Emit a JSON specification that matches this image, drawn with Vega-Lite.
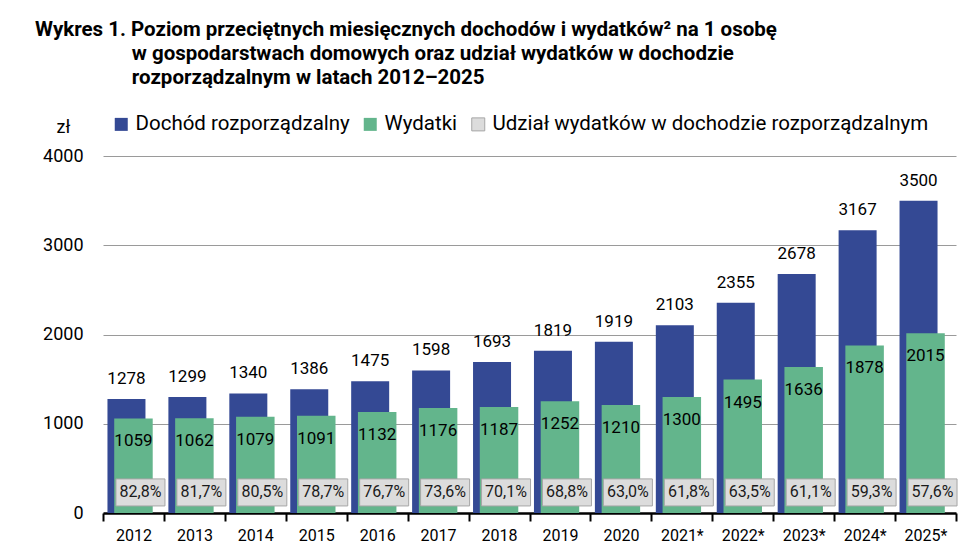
{
  "$schema": "https://vega.github.io/schema/vega-lite/v6.json",
  "width": 853,
  "height": 357,
  "autosize": {"type": "none"},
  "padding": {"left": 103, "top": 156, "right": 19, "bottom": 45},
  "background": "white",
  "title": {
    "text": [
      "Wykres 1. Poziom przeciętnych miesięcznych dochodów i wydatków² na 1 osobę",
      "\u200b\u00a0\u00a0\u00a0\u00a0\u00a0\u00a0\u00a0\u00a0\u00a0\u00a0\u00a0\u00a0\u00a0\u00a0\u00a0\u00a0\u00a0\u00a0\u00a0w gospodarstwach domowych oraz udział wydatków w dochodzie",
      "\u200b\u00a0\u00a0\u00a0\u00a0\u00a0\u00a0\u00a0\u00a0\u00a0\u00a0\u00a0\u00a0\u00a0\u00a0\u00a0\u00a0\u00a0\u00a0\u00a0rozporządzalnym w latach 2012–2025"
    ],
    "anchor": "start",
    "frame": "group",
    "dx": -68,
    "dy": -22,
    "fontSize": 20.5,
    "fontWeight": "bold",
    "lineHeight": 24,
    "color": "black",
    "font": "Roboto"
  },
  "config": {
    "font": "Roboto",
    "view": {"stroke": null},
    "locale": {
      "number": {"decimal": ",", "thousands": "", "grouping": [3], "currency": ["", " zł"]}
    }
  },
  "data": {
    "values": [
      {"rok": "2012", "dochod": 1278, "wydatki": 1059, "udzial": 0.828},
      {"rok": "2013", "dochod": 1299, "wydatki": 1062, "udzial": 0.817},
      {"rok": "2014", "dochod": 1340, "wydatki": 1079, "udzial": 0.805},
      {"rok": "2015", "dochod": 1386, "wydatki": 1091, "udzial": 0.787},
      {"rok": "2016", "dochod": 1475, "wydatki": 1132, "udzial": 0.767},
      {"rok": "2017", "dochod": 1598, "wydatki": 1176, "udzial": 0.736},
      {"rok": "2018", "dochod": 1693, "wydatki": 1187, "udzial": 0.701},
      {"rok": "2019", "dochod": 1819, "wydatki": 1252, "udzial": 0.688},
      {"rok": "2020", "dochod": 1919, "wydatki": 1210, "udzial": 0.630},
      {"rok": "2021*", "dochod": 2103, "wydatki": 1300, "udzial": 0.618},
      {"rok": "2022*", "dochod": 2355, "wydatki": 1495, "udzial": 0.635},
      {"rok": "2023*", "dochod": 2678, "wydatki": 1636, "udzial": 0.611},
      {"rok": "2024*", "dochod": 3167, "wydatki": 1878, "udzial": 0.593},
      {"rok": "2025*", "dochod": 3500, "wydatki": 2015, "udzial": 0.576}
    ]
  },
  "encoding": {
    "x": {
      "field": "rok",
      "type": "ordinal",
      "sort": null,
      "scale": {"paddingInner": 0, "paddingOuter": 0},
      "axis": {
        "title": null,
        "labelAngle": 0,
        "labelFontSize": 16,
        "labelColor": "black",
        "labelPadding": 6,
        "domainColor": "black",
        "domainWidth": 2.5,
        "tickColor": "black",
        "tickWidth": 2,
        "tickSize": 8,
        "tickBand": "extent",
        "grid": false
      }
    }
  },
  "layer": [
    {
      "mark": {"type": "bar", "width": 38, "xOffset": -7},
      "encoding": {
        "y": {
          "field": "dochod",
          "type": "quantitative",
          "scale": {"domain": [0, 4000], "nice": false},
          "axis": {
            "values": [0, 1000, 2000, 3000, 4000],
            "format": "d",
            "domain": false,
            "ticks": false,
            "grid": true,
            "gridColor": "#9a9a9a",
            "gridWidth": 1,
            "labelFontSize": 18,
            "labelColor": "black",
            "labelPadding": 20,
            "title": "zł",
            "titleAngle": 0,
            "titleAlign": "center",
            "titleBaseline": "middle",
            "titleX": -40,
            "titleY": -29,
            "titleFontSize": 18,
            "titleFontWeight": "normal",
            "titleColor": "black"
          }
        },
        "color": {
          "datum": "Dochód rozporządzalny",
          "type": "nominal",
          "scale": {
            "domain": ["Dochód rozporządzalny", "Wydatki", "Udział wydatków w dochodzie rozporządzalnym"],
            "range": ["#344994", "#63B58C", "#DCDCDC"]
          },
          "legend": {
            "orient": "none",
            "legendX": 8,
            "legendY": -42,
            "direction": "horizontal",
            "title": null,
            "labelFontSize": 20.5,
            "labelColor": "black",
            "labelOffset": 4,
            "labelLimit": 0,
            "symbolType": "square",
            "symbolSize": 169,
            "columnPadding": 10,
            "encode": {
              "symbols": {
                "update": {
                  "stroke": {"signal": "datum.label === 'Udział wydatków w dochodzie rozporządzalnym' ? '#a6a6a6' : 'transparent'"},
                  "strokeWidth": {"value": 1}
                }
              }
            }
          }
        }
      }
    },
    {
      "mark": {"type": "text", "xOffset": -7, "dy": -15, "baseline": "alphabetic", "fontSize": 17, "color": "black"},
      "encoding": {
        "y": {"field": "dochod", "type": "quantitative"},
        "text": {"field": "dochod", "type": "quantitative", "format": "d"}
      }
    },
    {
      "mark": {"type": "bar", "width": 38.5, "xOffset": 0},
      "encoding": {
        "y": {"field": "wydatki", "type": "quantitative"},
        "color": {"datum": "Wydatki", "type": "nominal"}
      }
    },
    {
      "mark": {"type": "text", "dy": 28, "baseline": "alphabetic", "fontSize": 17, "color": "black"},
      "encoding": {
        "y": {"field": "wydatki", "type": "quantitative"},
        "text": {"field": "wydatki", "type": "quantitative", "format": "d"}
      }
    },
    {
      "mark": {"type": "bar", "width": 49, "xOffset": 7, "stroke": "#a6a6a6", "strokeWidth": 1},
      "encoding": {
        "y": {"datum": 79, "type": "quantitative"},
        "y2": {"datum": 382},
        "color": {"datum": "Udział wydatków w dochodzie rozporządzalnym", "type": "nominal"}
      }
    },
    {
      "mark": {"type": "text", "xOffset": 7, "baseline": "middle", "fontSize": 16, "color": "#1a1a1a"},
      "encoding": {
        "y": {"datum": 230, "type": "quantitative"},
        "text": {"field": "udzial", "type": "quantitative", "format": ".1%"}
      }
    }
  ]
}
